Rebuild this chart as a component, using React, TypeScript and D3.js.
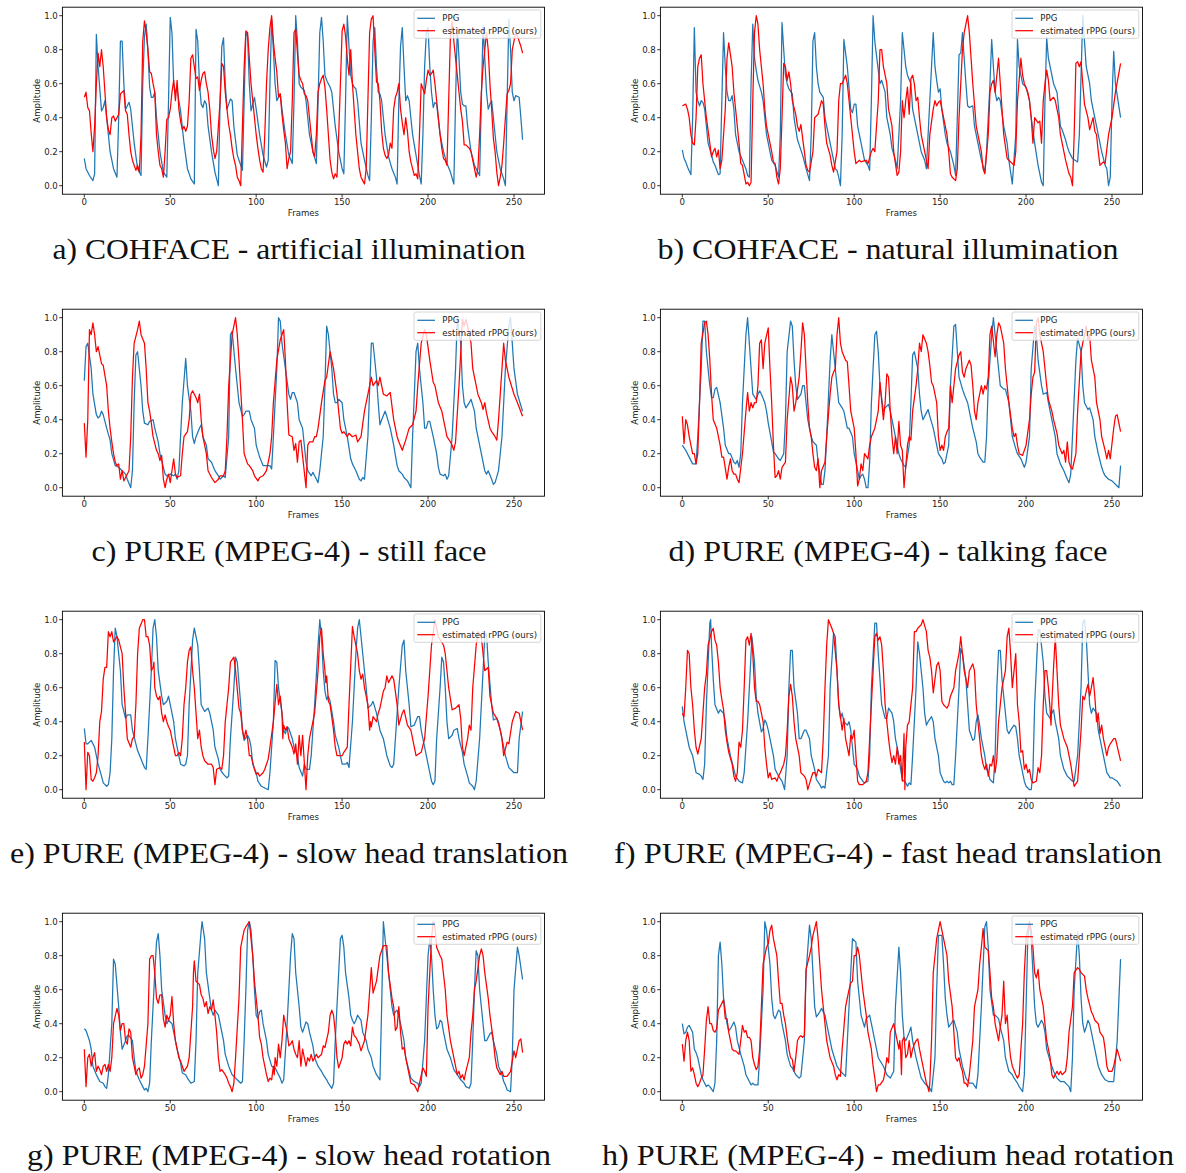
import React from 'react';
import * as d3 from 'd3';

type Pt = [number, number];

const FRAME_TICKS = [0, 50, 100, 150, 200, 250];
const AMP_TICKS = [0, 0.2, 0.4, 0.6, 0.8, 1.0];
const SERIES_NAMES = ['PPG', 'estimated rPPG (ours)'];
const CAPTIONS = [
  'a) COHFACE - artificial illumination',
  'b) COHFACE - natural illumination',
  'c) PURE (MPEG-4) - still face',
  'd) PURE (MPEG-4) - talking face',
  'e) PURE (MPEG-4) - slow head translation',
  'f) PURE (MPEG-4) - fast head translation',
  'g) PURE (MPEG-4) - slow head rotation',
  'h) PURE (MPEG-4) - medium head rotation',
];

const PPG_A: Pt[] = [[0,.16],[1,.1],[3,.06],[5,.03],[6,.07],[7,.89],[8,.7],[10,.44],[11,.46],[12,.5],[13,.4],[15,.2],[17,.1],[19,.05],[20,.4],[21,.85],[22,.85],[23,.6],[24,.45],[25,.47],[26,.49],[27,.45],[29,.25],[31,.1],[33,.06],[34,.6],[35,.88],[36,.95],[37,.8],[38,.58],[39,.52],[40,.52],[41,.55],[42,.4],[44,.2],[46,.08],[48,.05],[49,.5],[50,.99],[51,.9],[52,.6],[53,.55],[54,.57],[55,.5],[56,.44],[58,.25],[60,.1],[62,.04],[64,.01],[65,.92],[66,.85],[67,.6],[68,.48],[69,.46],[70,.5],[71,.48],[72,.35],[74,.2],[76,.08],[78,.0],[79,.5],[80,.82],[81,.87],[82,.6],[83,.45],[84,.48],[85,.51],[86,.5],[87,.35],[89,.18],[91,.12],[92,.09],[93,.5],[94,.9],[95,.88],[96,.6],[97,.44],[98,.48],[99,.52],[100,.45],[102,.3],[104,.18],[106,.11],[107,.15],[108,.6],[109,.98],[110,.8],[111,.6],[112,.5],[113,.52],[114,.54],[115,.45],[117,.3],[119,.18],[121,.13],[122,.5],[123,1.0],[124,.85],[125,.6],[126,.58],[127,.57],[128,.56],[129,.5],[131,.3],[133,.2],[135,.13],[136,.5],[137,.9],[138,.99],[139,.85],[140,.65],[141,.62],[142,.6],[143,.58],[144,.55],[146,.35],[148,.2],[150,.1],[151,.07],[152,.5],[153,1.0],[154,.82],[155,.65],[156,.6],[157,.58],[158,.57],[159,.5],[161,.25],[163,.15],[165,.06],[166,.03],[167,.4],[168,.85],[169,.93],[170,.7],[171,.55],[172,.54],[173,.5],[175,.3],[177,.17],[179,.1],[181,.05],[182,.01],[183,.5],[184,.82],[185,.93],[186,.7],[187,.5],[188,.53],[189,.5],[191,.3],[193,.18],[195,.06],[196,.01],[197,.3],[198,.7],[199,.9],[200,.93],[201,.7],[202,.55],[203,.46],[204,.49],[205,.48],[207,.3],[209,.2],[211,.13],[213,.08],[215,.01],[216,.5],[217,.93],[218,.75],[219,.55],[220,.48],[221,.47],[222,.47],[223,.35],[225,.2],[227,.12],[229,.08],[230,.06],[231,.5],[232,.94],[233,.75],[234,.55],[235,.45],[236,.48],[237,.5],[238,.4],[240,.2],[242,.1],[244,.04],[245,.0],[246,.5],[247,.98],[248,.8],[249,.55],[250,.5],[251,.53],[253,.52],[254,.4],[255,.27]];
const RPPG_A: Pt[] = [[0,.52],[1,.55],[2,.46],[3,.44],[4,.31],[5,.2],[6,.35],[7,.6],[8,.78],[9,.7],[10,.8],[11,.7],[12,.55],[13,.4],[14,.33],[15,.3],[16,.4],[17,.41],[18,.38],[19,.4],[20,.42],[21,.54],[22,.55],[23,.56],[24,.44],[25,.42],[26,.3],[27,.2],[28,.15],[29,.12],[30,.09],[31,.12],[32,.08],[33,.3],[34,.85],[35,.97],[36,.9],[37,.8],[38,.67],[39,.66],[40,.6],[41,.55],[42,.3],[43,.2],[44,.12],[45,.1],[46,.05],[47,.2],[48,.39],[49,.4],[50,.45],[51,.55],[52,.62],[53,.5],[54,.62],[55,.45],[56,.38],[57,.33],[58,.35],[59,.32],[60,.35],[61,.5],[62,.75],[63,.77],[64,.7],[65,.63],[66,.64],[67,.56],[68,.62],[69,.66],[70,.67],[71,.6],[72,.55],[73,.45],[74,.3],[75,.22],[76,.16],[77,.2],[78,.35],[79,.5],[80,.72],[81,.7],[82,.55],[83,.45],[84,.36],[85,.3],[86,.22],[87,.16],[88,.12],[89,.05],[90,.03],[91,.0],[92,.35],[93,.7],[94,.91],[95,.9],[96,.75],[97,.6],[98,.5],[99,.4],[100,.3],[101,.22],[102,.15],[103,.1],[104,.08],[105,.3],[106,.6],[107,.8],[108,.93],[109,1.0],[110,.85],[111,.75],[112,.67],[113,.52],[114,.54],[115,.42],[116,.33],[117,.25],[118,.1],[119,.16],[120,.2],[121,.5],[122,.9],[123,.92],[124,.78],[125,.65],[126,.62],[127,.6],[128,.54],[129,.53],[130,.5],[131,.4],[132,.3],[133,.2],[134,.17],[135,.3],[136,.55],[137,.6],[138,.63],[139,.65],[140,.58],[141,.45],[142,.3],[143,.15],[144,.08],[145,.04],[146,.07],[147,.05],[148,.3],[149,.6],[150,.91],[151,.95],[152,.88],[153,.75],[154,.65],[155,.8],[156,.6],[157,.45],[158,.3],[159,.2],[160,.1],[161,.05],[162,.03],[163,.01],[164,.1],[165,.5],[166,.9],[167,.98],[168,1.0],[169,.8],[170,.61],[171,.6],[172,.5],[173,.32],[174,.22],[175,.18],[176,.16],[177,.18],[178,.25],[179,.22],[180,.45],[181,.52],[182,.55],[183,.6],[184,.45],[185,.37],[186,.3],[187,.4],[188,.32],[189,.2],[190,.14],[191,.1],[192,.06],[193,.07],[194,.04],[195,.3],[196,.6],[197,.57],[198,.54],[199,.62],[200,.68],[201,.65],[202,.66],[203,.68],[204,.6],[205,.5],[206,.4],[207,.3],[208,.22],[209,.16],[210,.15],[211,.12],[212,.5],[213,.88],[214,.97],[215,.85],[216,.75],[217,.65],[218,.55],[219,.45],[220,.38],[221,.24],[222,.24],[223,.23],[224,.22],[225,.2],[226,.15],[227,.1],[228,.05],[229,.1],[230,.3],[231,.55],[232,.7],[233,.8],[234,.9],[235,.8],[236,.6],[237,.45],[238,.28],[239,.2],[240,.08],[241,.0],[242,.05],[243,.12],[244,.25],[245,.4],[246,.54],[247,.56],[248,.6],[249,.8],[250,.85],[251,.9],[252,.88],[253,.85],[254,.82],[255,.78]];

const PPG_B: Pt[] = [[0,.21],[1,.16],[2,.14],[3,.11],[5,.065],[6,.4],[7,.93],[8,.55],[9,.5],[10,.47],[11,.5],[12,.49],[13,.45],[14,.35],[15,.25],[17,.18],[18,.14],[19,.12],[21,.065],[22,.07],[23,.5],[24,.9],[25,.7],[26,.55],[27,.5],[28,.5],[29,.53],[30,.45],[31,.3],[33,.2],[35,.15],[37,.1],[38,.06],[39,.05],[40,.6],[41,.95],[42,.75],[43,.68],[44,.62],[46,.55],[47,.5],[48,.4],[49,.3],[50,.25],[52,.15],[54,.12],[56,.05],[57,.3],[58,.96],[59,.8],[60,.65],[61,.6],[62,.57],[64,.54],[65,.4],[67,.27],[68,.24],[70,.18],[72,.1],[74,.03],[75,.3],[76,.85],[77,.9],[78,.7],[79,.6],[80,.55],[82,.52],[83,.4],[85,.3],[87,.2],[88,.15],[89,.1],[90,.09],[91,.05],[92,.0],[93,.3],[94,.86],[96,.7],[98,.45],[99,.43],[100,.48],[101,.48],[102,.35],[104,.25],[106,.15],[108,.12],[109,.09],[110,.5],[111,1.0],[112,.85],[114,.68],[115,.6],[116,.62],[118,.55],[119,.4],[121,.3],[122,.22],[124,.15],[125,.1],[127,.5],[128,.9],[129,.8],[130,.7],[131,.65],[133,.6],[134,.45],[136,.35],[138,.25],[139,.2],[141,.15],[142,.1],[144,.5],[146,.9],[147,.7],[148,.62],[149,.55],[150,.57],[151,.45],[153,.3],[154,.25],[156,.2],[158,.12],[159,.06],[160,.4],[161,.77],[162,.78],[163,.9],[164,.75],[165,.6],[166,.47],[167,.46],[169,.47],[170,.35],[172,.25],[174,.15],[176,.08],[177,.2],[179,.6],[180,.86],[181,.7],[182,.55],[183,.5],[184,.52],[185,.5],[187,.35],[189,.25],[190,.15],[192,.01],[194,.3],[195,.86],[196,.7],[198,.6],[200,.58],[202,.5],[203,.4],[205,.25],[207,.12],[209,.02],[210,.0],[211,.5],[212,.87],[213,.75],[215,.65],[216,.6],[218,.55],[219,.45],[220,.35],[221,.33],[222,.3],[223,.27],[224,.23],[225,.2],[226,.18],[227,.16],[230,.14],[231,.3],[233,1.0],[234,.85],[235,.7],[237,.6],[238,.5],[240,.4],[242,.3],[244,.2],[246,.12],[247,.1],[248,.0],[249,.05],[250,.5],[251,.79],[252,.6],[255,.4]];
const RPPG_B: Pt[] = [[0,.47],[2,.48],[3,.45],[4,.4],[5,.3],[6,.25],[7,.24],[8,.4],[9,.7],[10,.75],[11,.77],[12,.6],[14,.4],[16,.25],[17,.17],[18,.2],[19,.22],[20,.17],[21,.21],[22,.1],[23,.15],[25,.45],[26,.75],[27,.84],[29,.7],[30,.55],[32,.35],[33,.25],[34,.13],[35,.12],[37,.01],[38,.02],[39,.0],[40,.02],[41,.5],[42,.9],[43,1.0],[44,.95],[45,.8],[47,.6],[48,.45],[49,.35],[50,.3],[51,.25],[52,.2],[53,.14],[54,.13],[55,.05],[56,.01],[57,.1],[58,.4],[59,.72],[60,.7],[61,.62],[62,.67],[63,.6],[64,.5],[66,.42],[67,.35],[68,.32],[69,.36],[70,.28],[71,.2],[72,.12],[73,.09],[74,.08],[76,.2],[77,.4],[79,.42],[81,.5],[82,.48],[83,.35],[84,.25],[86,.18],[87,.12],[88,.08],[90,.2],[91,.5],[92,.6],[93,.6],[95,.65],[96,.6],[98,.4],[100,.2],[101,.13],[103,.15],[104,.14],[107,.15],[108,.13],[110,.2],[111,.22],[112,.2],[114,.5],[115,.8],[116,.8],[117,.7],[119,.6],[120,.45],[122,.35],[123,.2],[125,.06],[126,.08],[127,.2],[128,.5],[129,.4],[130,.5],[131,.58],[132,.42],[133,.63],[134,.65],[135,.6],[136,.5],[137,.52],[138,.4],[139,.3],[141,.2],[143,.1],[144,.3],[146,.45],[147,.5],[148,.47],[149,.49],[150,.5],[151,.45],[152,.4],[154,.3],[155,.2],[156,.07],[157,.05],[159,.03],[160,.1],[161,.4],[163,.8],[164,.9],[166,1.0],[167,.9],[169,.6],[171,.35],[172,.3],[174,.2],[175,.1],[176,.07],[178,.3],[179,.55],[180,.6],[181,.62],[182,.55],[184,.75],[185,.6],[187,.3],[189,.16],[190,.15],[192,.13],[193,.12],[194,.2],[195,.5],[197,.75],[198,.65],[199,.6],[201,.55],[202,.5],[203,.4],[204,.25],[205,.4],[207,.37],[208,.38],[209,.25],[210,.5],[211,.6],[212,.68],[213,.62],[214,.5],[216,.52],[217,.5],[219,.4],[220,.3],[222,.2],[223,.15],[225,.07],[226,.05],[227,.0],[228,.3],[229,.72],[230,.73],[231,.7],[232,.73],[233,.6],[234,.48],[236,.4],[237,.33],[239,.4],[240,.32],[241,.3],[242,.2],[243,.12],[245,.14],[246,.13],[248,.3],[250,.4],[252,.55],[255,.72]];

const PPG_C: Pt[] = [[0,.63],[1,.83],[2,.85],[4,.7],[5,.55],[7,.43],[8,.41],[9,.42],[10,.45],[11,.43],[13,.35],[15,.28],[16,.2],[18,.13],[20,.12],[22,.1],[24,.08],[25,.05],[27,.0],[28,.1],[29,.5],[30,.78],[31,.8],[33,.6],[34,.45],[35,.38],[37,.37],[38,.39],[40,.4],[41,.35],[43,.27],[44,.2],[46,.12],[47,.08],[48,.07],[50,.08],[52,.07],[53,.08],[54,.05],[55,.1],[57,.5],[59,.76],[60,.6],[62,.45],[63,.3],[64,.26],[65,.3],[67,.35],[68,.37],[69,.3],[71,.25],[72,.17],[74,.15],[76,.1],[78,.07],[79,.05],[81,.07],[82,.06],[84,.3],[85,.9],[86,.92],[88,.7],[90,.5],[92,.42],[93,.43],[94,.45],[96,.45],[97,.4],[99,.35],[100,.25],[102,.18],[104,.13],[106,.13],[108,.13],[109,.11],[110,.3],[112,.7],[113,1.0],[114,.98],[115,.85],[117,.7],[119,.55],[120,.52],[121,.56],[122,.56],[124,.5],[125,.4],[127,.35],[129,.15],[130,.1],[132,.07],[133,.09],[134,.07],[136,.03],[137,.1],[139,.3],[140,.6],[141,.95],[142,.9],[144,.7],[145,.55],[146,.5],[147,.5],[148,.52],[150,.5],[151,.4],[153,.3],[155,.17],[156,.14],[158,.1],[160,.05],[161,.04],[162,.06],[163,.05],[165,.3],[167,.85],[168,.85],[170,.65],[171,.5],[172,.37],[173,.4],[175,.45],[176,.42],[178,.35],[180,.25],[182,.13],[183,.1],[185,.08],[186,.06],[188,.04],[190,.0],[191,.3],[193,.8],[194,.85],[195,.7],[197,.5],[198,.35],[199,.35],[200,.39],[201,.39],[203,.3],[205,.2],[206,.12],[207,.08],[209,.07],[210,.08],[211,.05],[212,.07],[214,.3],[216,.7],[217,1.0],[219,.85],[220,.6],[221,.5],[222,.47],[224,.5],[225,.52],[227,.45],[228,.35],[230,.25],[232,.15],[233,.1],[234,.08],[235,.1],[237,.05],[238,.02],[239,.03],[241,.1],[243,.3],[245,.7],[247,.95],[248,1.0],[249,.85],[250,.7],[252,.55],[255,.45]];
const RPPG_C: Pt[] = [[0,.38],[1,.18],[2,.4],[3,.93],[4,.9],[5,.97],[6,.9],[7,.8],[8,.83],[9,.78],[10,.73],[11,.72],[13,.6],[14,.45],[15,.35],[16,.27],[17,.2],[18,.15],[19,.13],[20,.14],[21,.05],[22,.1],[23,.04],[24,.06],[26,.1],[27,.3],[28,.65],[29,.85],[31,.93],[32,.98],[33,.9],[35,.85],[36,.7],[37,.5],[38,.45],[39,.38],[40,.3],[42,.22],[43,.2],[44,.16],[45,.19],[46,.05],[47,.0],[48,.05],[49,.08],[50,.03],[51,.1],[52,.17],[53,.08],[54,.06],[56,.07],[57,.2],[58,.3],[60,.33],[61,.4],[62,.55],[63,.57],[64,.55],[65,.53],[66,.5],[67,.55],[68,.4],[69,.3],[71,.2],[72,.1],[74,.06],[76,.03],[78,.05],[79,.07],[81,.07],[82,.1],[83,.3],[84,.6],[86,.9],[88,1.0],[89,.9],[90,.75],[92,.4],[93,.2],[95,.14],[96,.13],[98,.1],[99,.07],[101,.04],[102,.06],[104,.07],[106,.1],[108,.2],[109,.3],[110,.5],[112,.75],[114,.87],[115,.9],[116,.93],[117,.75],[118,.5],[119,.31],[121,.3],[122,.22],[123,.26],[124,.15],[125,.27],[126,.28],[129,.0],[130,.25],[131,.27],[133,.27],[134,.3],[135,.3],[136,.35],[138,.5],[140,.63],[141,.65],[143,.8],[144,.75],[145,.7],[147,.55],[148,.45],[149,.35],[150,.32],[151,.33],[153,.3],[154,.32],[156,.3],[158,.31],[159,.27],[161,.3],[163,.45],[167,.65],[168,.6],[170,.63],[171,.6],[172,.65],[174,.55],[176,.54],[178,.56],[180,.4],[182,.3],[183,.27],[185,.22],[187,.28],[189,.35],[191,.37],[193,.45],[194,.6],[196,.85],[198,.93],[199,.9],[201,.75],[203,.62],[204,.6],[206,.5],[208,.45],[210,.35],[211,.3],[213,.27],[214,.25],[215,.22],[216,.27],[218,.6],[220,.99],[221,.95],[222,.99],[223,.95],[225,.85],[226,.7],[229,.55],[231,.5],[232,.46],[233,.5],[234,.44],[236,.35],[237,.33],[239,.3],[240,.28],[241,.4],[243,.7],[244,.85],[245,.75],[247,.65],[250,.55],[252,.5],[255,.42]];

const PPG_D: Pt[] = [[0,.25],[2,.22],[4,.18],[6,.14],[8,.14],[9,.3],[11,.7],[12,.98],[13,.98],[14,.8],[16,.6],[17,.53],[18,.53],[19,.58],[20,.59],[22,.5],[24,.35],[25,.25],[27,.2],[28,.2],[30,.15],[31,.14],[32,.16],[33,.12],[34,.2],[35,.5],[37,.9],[38,1.0],[39,.85],[40,.7],[41,.55],[43,.52],[44,.55],[45,.57],[46,.55],[48,.5],[49,.45],[50,.38],[52,.27],[53,.21],[54,.2],[56,.17],[57,.16],[59,.2],[60,.4],[61,.8],[63,.98],[64,.95],[65,.75],[66,.6],[67,.52],[69,.55],[70,.6],[71,.6],[72,.5],[73,.4],[75,.3],[76,.27],[78,.25],[79,.15],[81,.02],[82,.02],[83,.1],[84,.3],[86,.75],[87,.9],[88,.8],[90,.6],[91,.5],[93,.47],[94,.45],[95,.4],[96,.35],[97,.35],[99,.3],[100,.2],[102,.1],[103,.05],[104,.07],[105,.08],[106,.05],[107,.0],[108,.0],[109,.15],[110,.5],[112,.9],[113,.92],[114,.8],[115,.6],[117,.45],[118,.47],[120,.49],[121,.45],[122,.4],[124,.3],[126,.2],[127,.17],[128,.15],[129,.13],[130,.12],[132,.25],[133,.5],[134,.78],[135,.8],[137,.7],[138,.55],[139,.45],[140,.4],[142,.44],[143,.46],[144,.42],[146,.35],[148,.25],[149,.2],[151,.17],[152,.14],[153,.15],[155,.25],[156,.6],[158,.95],[159,.96],[160,.8],[161,.65],[163,.58],[164,.55],[166,.5],[167,.45],[169,.35],[171,.27],[172,.2],[173,.18],[175,.15],[176,.15],[177,.3],[178,.6],[180,.9],[181,1.0],[182,.9],[184,.7],[185,.6],[187,.58],[188,.58],[190,.5],[191,.4],[192,.3],[194,.23],[195,.2],[197,.17],[199,.12],[200,.15],[202,.3],[203,.7],[205,.95],[206,.9],[207,.75],[209,.6],[210,.55],[212,.56],[213,.5],[215,.4],[217,.3],[218,.2],[220,.14],[222,.1],[224,.05],[225,.03],[226,.08],[227,.3],[229,.75],[230,.88],[232,.8],[233,.6],[234,.5],[236,.46],[237,.47],[239,.4],[240,.3],[242,.2],[244,.12],[245,.09],[246,.07],[248,.05],[250,.04],[254,.0],[255,.13]];
const RPPG_D: Pt[] = [[0,.42],[1,.26],[2,.4],[3,.37],[4,.3],[6,.2],[7,.2],[8,.14],[9,.2],[10,.5],[11,.85],[13,.97],[14,.98],[15,.9],[16,.75],[17,.55],[18,.4],[20,.35],[22,.25],[23,.18],[24,.18],[26,.05],[27,.12],[28,.17],[29,.1],[30,.08],[31,.08],[32,.05],[33,.03],[35,.2],[37,.45],[38,.56],[39,.45],[40,.5],[41,.47],[42,.5],[43,.5],[44,.6],[45,.85],[46,.87],[47,.7],[48,.85],[50,.94],[51,.7],[52,.5],[53,.25],[54,.06],[55,.07],[56,.1],[57,.05],[58,.12],[60,.15],[61,.4],[63,.65],[64,.6],[65,.45],[66,.5],[68,.65],[69,.8],[70,.97],[71,.9],[72,.7],[73,.5],[74,.35],[75,.3],[76,.2],[77,.12],[78,.1],[79,.17],[80,.0],[81,.1],[83,.15],[84,.3],[86,.55],[87,.65],[88,.68],[89,.7],[90,.9],[91,1.0],[92,.85],[93,.8],[95,.75],[96,.74],[97,.6],[98,.45],[100,.35],[101,.2],[102,.01],[103,.05],[104,.14],[105,.1],[106,.2],[108,.17],[109,.25],[110,.3],[112,.35],[114,.45],[115,.62],[117,.4],[118,.5],[119,.67],[120,.65],[121,.45],[122,.3],[123,.2],[124,.3],[125,.2],[126,.39],[127,.25],[128,.22],[129,.0],[131,.25],[132,.3],[133,.28],[134,.45],[136,.6],[137,.7],[138,.85],[139,.8],[140,.9],[142,.85],[143,.8],[144,.72],[145,.62],[146,.6],[148,.5],[149,.3],[150,.22],[151,.25],[152,.22],[153,.3],[154,.33],[155,.35],[156,.6],[157,.5],[158,.6],[159,.7],[161,.78],[162,.8],[163,.68],[164,.65],[165,.7],[167,.75],[168,.72],[169,.6],[170,.45],[171,.4],[172,.5],[174,.6],[175,.55],[176,.6],[177,.58],[178,.65],[179,.9],[180,.95],[182,.77],[183,.9],[184,.97],[185,.95],[187,.85],[188,.7],[190,.5],[192,.35],[193,.3],[194,.32],[195,.25],[196,.2],[198,.19],[200,.25],[202,.4],[203,.55],[204,.65],[205,.68],[206,.97],[207,1.0],[208,.9],[210,.8],[212,.6],[213,.52],[215,.45],[216,.4],[218,.32],[219,.25],[221,.2],[222,.22],[223,.15],[224,.27],[225,.15],[226,.12],[227,.11],[229,.2],[230,.45],[232,.8],[233,.85],[235,.95],[236,.87],[237,.9],[238,.75],[240,.65],[241,.5],[243,.4],[244,.3],[246,.22],[247,.17],[248,.22],[249,.17],[251,.35],[252,.42],[253,.43],[255,.33]];

const PPG_E: Pt[] = [[0,.36],[1,.27],[2,.27],[3,.28],[4,.29],[6,.25],[8,.15],[10,.08],[11,.04],[13,.02],[14,.03],[15,.1],[16,.3],[17,.7],[18,.95],[19,.9],[21,.7],[22,.5],[24,.42],[25,.44],[27,.44],[28,.35],[30,.27],[31,.23],[33,.18],[35,.13],[36,.12],[37,.3],[39,.7],[40,.95],[41,1.0],[42,.9],[43,.7],[45,.55],[46,.5],[48,.52],[49,.55],[50,.5],[52,.4],[53,.3],[55,.2],[56,.15],[58,.14],[59,.15],[60,.2],[61,.5],[63,.88],[64,.95],[66,.85],[67,.7],[68,.5],[70,.46],[71,.47],[72,.48],[73,.45],[75,.35],[76,.25],[78,.18],[79,.12],[81,.09],[83,.07],[84,.08],[85,.3],[87,.6],[88,.78],[89,.75],[91,.5],[92,.35],[93,.29],[95,.32],[96,.3],[97,.25],[98,.15],[100,.1],[101,.05],[103,.02],[105,.01],[107,.0],[108,.1],[110,.4],[111,.76],[112,.75],[113,.6],[115,.45],[116,.35],[117,.33],[118,.37],[119,.36],[121,.3],[122,.25],[124,.2],[125,.13],[127,.08],[128,.15],[129,.12],[131,.12],[132,.2],[134,.5],[136,.85],[137,1.0],[138,.9],[139,.7],[140,.58],[141,.53],[142,.55],[143,.52],[145,.4],[146,.32],[148,.25],[150,.15],[152,.15],[153,.16],[154,.13],[156,.4],[158,.8],[159,.95],[160,1.0],[161,.9],[163,.7],[164,.6],[165,.48],[167,.5],[168,.52],[170,.45],[172,.35],[174,.3],[176,.2],[178,.14],[179,.13],[180,.15],[181,.3],[183,.6],[185,.85],[186,.88],[187,.7],[189,.5],[190,.37],[192,.38],[194,.43],[195,.43],[196,.35],[198,.25],[200,.15],[202,.05],[203,.03],[204,.05],[205,.3],[207,.6],[208,.78],[209,.75],[210,.6],[211,.4],[212,.3],[214,.32],[215,.35],[217,.36],[218,.3],[220,.22],[221,.15],[223,.08],[224,.04],[226,.02],[227,.0],[228,.05],[230,.3],[232,.7],[233,.9],[234,.92],[235,.75],[237,.5],[238,.41],[240,.42],[241,.4],[243,.3],[245,.2],[247,.13],[249,.11],[250,.1],[252,.1],[253,.3],[255,.46]];
const RPPG_E: Pt[] = [[0,.28],[1,.0],[2,.22],[3,.2],[4,.06],[5,.05],[6,.07],[7,.1],[8,.2],[9,.4],[10,.46],[11,.65],[12,.72],[13,.72],[14,.93],[15,.9],[16,.93],[17,.87],[19,.9],[20,.88],[22,.8],[23,.6],[24,.45],[25,.3],[27,.25],[28,.3],[29,.31],[30,.5],[31,.8],[32,.95],[34,1.0],[35,1.0],[36,.9],[37,.9],[38,.85],[39,.7],[40,.72],[40.5,.75],[41,.6],[42,.55],[43,.53],[44,.55],[45,.45],[46,.4],[47,.44],[48,.4],[49,.37],[50,.35],[51,.3],[52,.25],[53,.2],[54,.2],[55,.22],[56,.2],[57,.3],[58,.5],[59,.6],[60,.75],[61,.82],[62,.84],[63,.7],[64,.6],[65,.45],[66,.3],[67,.35],[68,.25],[69,.2],[70,.17],[72,.15],[74,.15],[75,.13],[76,.03],[77,.12],[79,.13],[80,.12],[81,.2],[82,.4],[84,.6],[85,.75],[87,.78],[88,.7],[90,.48],[91,.45],[92,.35],[93,.3],[94,.35],[95,.3],[96,.2],[97,.2],[99,.12],[100,.09],[101,.1],[102,.08],[104,.1],[105,.12],[107,.18],[108,.25],[110,.4],[112,.62],[113,.5],[114,.55],[115,.45],[115.5,.3],[116,.38],[117,.35],[118,.37],[119,.3],[121,.25],[122,.21],[123,.27],[124,.15],[125,.32],[126,.2],[127,.32],[129,.0],[130,.2],[131,.3],[133,.4],[134,.45],[136,.7],[137,.9],[138,.95],[139,.8],[140,.7],[140.5,.63],[141,.67],[142,.52],[143,.5],[145,.35],[146,.25],[147,.2],[148,.2],[150,.2],[151,.22],[153,.25],[154,.5],[156,.96],[157,.9],[158,.85],[159,.8],[160,.7],[161,.65],[162,.68],[163,.6],[165,.5],[166,.35],[166.5,.4],[167,.37],[168,.43],[170,.4],[171,.45],[172,.48],[174,.58],[175,.6],[176,.67],[177,.63],[178,.65],[179,.67],[180,.65],[182,.5],[183,.38],[185,.45],[186,.47],[188,.38],[190,.35],[193,.2],[196,.22],[198,.3],[200,.55],[202,.85],[204,1.0],[206,.9],[209,.85],[210,.8],[212,.6],[214,.47],[216,.48],[218,.5],[219,.42],[220,.25],[221,.2],[223,.3],[224,.38],[225,.35],[226,.6],[228,.85],[229,.93],[231,.9],[232,.8],[233,.7],[235,.72],[236,.55],[238,.45],[240,.42],[242,.35],[243,.3],[244,.2],[246,.28],[247,.27],[249,.4],[251,.46],[253,.45],[255,.35]];

const PPG_F: Pt[] = [[0,.49],[1,.4],[3,.3],[4,.25],[6,.2],[7,.15],[8,.1],[10,.09],[11,.08],[12,.06],[13,.15],[14,.5],[16,.98],[16.5,1.0],[17,.85],[18,.65],[19,.5],[21,.45],[22,.47],[24,.45],[25,.4],[26,.3],[28,.2],[30,.12],[31,.08],[33,.05],[35,.04],[36,.1],[38,.4],[40,.8],[40.5,.9],[42,.75],[43,.55],[44,.45],[46,.34],[47,.36],[48,.41],[49,.39],[50,.35],[51,.3],[53,.2],[54,.12],[56,.08],[58,.05],[59,.02],[59.5,.0],[61,.2],[62,.6],[63,.82],[64,.82],[65,.6],[67,.45],[68,.3],[69,.3],[71,.35],[72,.35],[74,.3],[75,.2],[77,.12],[78,.06],[80,.03],[81,.01],[82,.02],[83,.01],[85,.2],[86,.6],[88,.92],[89,.9],[90,.7],[91,.5],[92,.42],[93,.45],[94,.4],[96,.38],[97,.4],[98,.35],[99,.25],[100,.15],[102,.12],[103,.08],[105,.05],[106,.04],[108,.05],[109,.2],[110,.6],[112,.98],[113,.98],[114,.8],[115,.65],[116,.5],[118,.42],[119,.42],[120,.48],[122,.45],[123,.4],[124,.3],[126,.2],[127,.12],[128,.06],[130,.04],[131,.02],[132,.04],[133,.03],[134,.2],[136,.6],[137,.87],[138,.8],[140,.6],[141,.45],[142,.38],[143,.4],[145,.43],[146,.4],[147,.3],[149,.2],[150,.1],[152,.05],[153,.04],[154,.05],[155,.04],[156,.05],[157,.03],[158,.03],[159,.2],[161,.6],[162,.83],[163,.8],[165,.65],[166,.5],[167,.35],[169,.29],[170,.3],[171,.4],[172,.44],[173,.38],[174,.3],[176,.2],[177,.12],[178,.1],[179,.06],[180,.05],[181,.04],[182,.2],[183,.6],[184,.82],[185,.82],[186,.65],[188,.45],[189,.35],[190,.33],[191,.35],[193,.38],[194,.37],[195,.3],[196,.2],[197,.15],[198,.1],[199,.05],[200,.02],[202,.0],[203,.0],[204,.1],[205,.5],[207,.94],[208,.94],[210,.75],[211,.55],[212,.45],[214,.42],[215,.45],[216,.47],[217,.4],[219,.3],[220,.2],[222,.12],[224,.08],[226,.06],[227,.05],[228,.05],[230,.2],[232,.6],[233,.98],[234,1.0],[235,.9],[236,.7],[237,.5],[238,.45],[239,.48],[241,.45],[242,.35],[244,.25],[245,.2],[247,.1],[249,.07],[250,.07],[253,.05],[255,.02]];
const RPPG_F: Pt[] = [[0,.45],[1,.43],[2,.6],[3,.82],[4,.8],[5,.6],[6,.5],[7,.35],[8,.25],[9,.21],[11,.3],[12,.45],[13,.6],[14,.68],[15,.85],[17,.93],[18,.95],[19,.88],[20,.85],[21,.75],[22,.6],[23,.53],[24,.47],[25,.35],[26,.28],[27,.22],[29,.15],[30,.08],[31,.05],[32,.1],[33,.28],[34,.25],[35,.35],[36,.6],[37,.88],[38,.9],[39,.85],[40,.92],[41,.8],[42,.6],[43,.52],[44,.52],[45,.5],[47,.4],[48,.25],[49,.15],[50,.07],[51,.1],[52,.06],[54,.07],[55,.05],[56,.08],[57,.1],[59,.15],[60,.2],[61,.35],[62,.55],[63,.62],[64,.55],[65,.4],[66,.3],[67,.25],[68,.2],[69,.1],[71,.08],[72,.06],[73,.0],[75,.07],[76,.1],[77,.1],[78,.08],[79,.12],[81,.1],[82,.3],[83,.6],[84,.85],[85,1.0],[87,.95],[88,.92],[90,.7],[91,.5],[92,.43],[93,.35],[94,.42],[95,.3],[96,.25],[97,.2],[98,.32],[99,.3],[100,.35],[101,.2],[102,.05],[103,.03],[105,.03],[107,.05],[108,.1],[109,.3],[111,.7],[112,.9],[113,.92],[114,.88],[115,.9],[116,.85],[117,.7],[118,.5],[119,.4],[120,.3],[121,.22],[122,.16],[123,.2],[124,.15],[125,.25],[126,.15],[127,.2],[128,.05],[129,.33],[129.5,.0],[130,.25],[131,.38],[132,.4],[133,.5],[134,.6],[135,.93],[136,.93],[137,.95],[139,.97],[140,1.0],[142,.93],[143,.82],[144,.78],[145,.7],[146,.57],[147,.65],[148,.73],[149,.75],[150,.7],[151,.52],[152,.5],[154,.48],[155,.5],[156,.55],[158,.6],[159,.7],[160,.75],[161,.8],[162,.9],[163,.8],[164,.7],[165,.65],[166,.6],[167,.7],[169,.74],[170,.7],[170.5,.6],[171,.5],[172,.4],[173,.3],[174,.2],[175,.15],[176,.12],[177,.15],[178,.08],[179,.15],[180,.14],[181,.2],[182,.1],[183,.18],[184,.4],[186,.6],[187,.65],[188,.7],[189,.9],[190,.95],[191,.8],[192,.6],[193,.7],[194,.8],[195,.5],[196,.4],[197,.22],[198,.23],[199,.12],[200,.15],[201,.1],[202,.12],[203,.06],[204,.04],[206,.05],[207,.13],[208,.1],[209,.2],[210,.5],[211,.7],[212,.7],[213,.6],[214,.47],[214.5,.38],[215,.5],[216,.72],[217,.9],[218,.7],[219,.5],[220,.38],[222,.3],[224,.25],[225,.2],[226,.15],[227,.08],[228,.02],[230,.05],[231,.2],[232,.35],[233,.55],[234,.53],[235,.58],[236,.62],[237,.55],[238,.6],[239,.66],[240,.55],[241,.4],[242,.45],[243,.33],[244,.38],[245,.3],[246,.25],[247,.2],[248,.25],[249,.27],[251,.3],[252,.3],[255,.17]];

const PPG_G: Pt[] = [[0,.37],[1,.36],[3,.3],[4,.25],[5,.15],[7,.1],[8,.08],[9,.06],[11,.05],[12,.03],[13,.02],[14,.1],[16,.4],[17,.78],[18,.75],[20,.5],[21,.35],[22,.25],[24,.3],[25,.33],[26,.33],[28,.3],[29,.2],[30,.12],[32,.07],[33,.05],[34,.03],[35,.01],[36,.02],[37,.0],[38,.05],[39,.3],[41,.7],[42,.88],[43,.93],[44,.8],[45,.6],[47,.45],[48,.4],[49,.42],[51,.4],[52,.35],[54,.25],[56,.17],[57,.11],[59,.1],[60,.08],[62,.05],[64,.06],[65,.3],[66,.7],[68,.95],[68.5,1.0],[70,.9],[71,.7],[73,.55],[74,.48],[75,.45],[76,.48],[78,.45],[79,.4],[81,.3],[82,.22],[84,.15],[86,.1],[88,.08],[89,.07],[91,.05],[92,.06],[93,.3],[94,.6],[95,.95],[96,1.0],[97,.95],[98,.8],[99,.6],[100,.45],[101,.43],[102,.47],[103,.48],[104,.4],[106,.3],[107,.22],[109,.15],[111,.14],[112,.12],[114,.08],[115,.05],[116,.07],[118,.4],[120,.8],[121,.93],[122,.9],[123,.7],[125,.5],[126,.38],[127,.35],[128,.38],[129,.41],[130,.4],[131,.35],[133,.27],[134,.2],[136,.15],[138,.12],[139,.1],[141,.07],[142,.05],[144,.02],[145,.05],[146,.3],[148,.7],[149,.9],[150,.92],[151,.85],[152,.7],[154,.55],[155,.45],[156,.42],[157,.4],[158,.42],[159,.45],[161,.42],[162,.35],[164,.3],[165,.25],[167,.2],[168,.15],[170,.1],[172,.07],[173,.5],[174,1.0],[175,.9],[177,.7],[179,.5],[180,.45],[181,.47],[182,.48],[184,.4],[186,.3],[187,.2],[189,.12],[190,.08],[192,.06],[194,.05],[195,.03],[196,.05],[198,.3],[200,.8],[201,.9],[202,.8],[203,.6],[204,.45],[205,.37],[206,.38],[207,.42],[208,.41],[209,.35],[211,.25],[213,.2],[215,.13],[217,.1],[219,.07],[221,.05],[222,.03],[224,.02],[225,.05],[226,.3],[227,.6],[228,.83],[229,.8],[230,.6],[232,.4],[233,.3],[234,.3],[236,.34],[237,.35],[238,.3],[240,.22],[241,.15],[243,.1],[244,.06],[245,.04],[246,.01],[248,.0],[249,.2],[250,.6],[252,.85],[253,.8],[255,.66]];
const RPPG_G: Pt[] = [[0,.25],[1,.03],[2,.2],[3,.22],[4,.15],[5,.2],[6,.23],[7,.12],[8,.15],[9,.13],[10,.1],[11,.15],[12,.16],[13,.12],[14,.16],[15,.12],[16,.2],[17,.4],[19,.49],[20,.45],[21,.36],[22,.4],[23,.4],[24,.3],[25,.28],[26,.37],[27,.35],[28,.2],[29,.15],[30,.1],[31,.13],[32,.14],[33,.08],[34,.1],[35,.15],[37,.4],[38,.78],[39,.8],[40,.8],[41,.7],[42,.55],[43,.52],[44,.57],[45,.57],[46,.43],[47,.38],[48,.45],[49,.42],[50,.45],[51,.56],[52,.4],[53,.3],[54,.25],[55,.2],[56,.18],[57,.15],[58,.12],[60,.15],[61,.2],[63,.5],[63.5,.7],[64,.77],[65,.65],[67,.63],[68,.57],[69,.55],[70,.5],[71,.53],[72,.46],[73,.5],[74,.48],[75,.54],[76,.45],[77,.35],[78,.2],[79,.12],[80,.13],[82,.1],[83,.08],[84,.05],[85,.03],[86,.0],[87,.05],[88,.2],[90,.55],[91,.85],[93,.95],[94,.97],[96,1.0],[97,.9],[98,.8],[99,.65],[100,.55],[101,.45],[102,.32],[103,.28],[104,.2],[105,.15],[106,.1],[107,.06],[108,.08],[109,.07],[110,.15],[110.5,.1],[111,.2],[112,.15],[113,.28],[114,.2],[115,.3],[116,.45],[117,.4],[118,.35],[119,.27],[120,.28],[121,.3],[122,.25],[123,.22],[124,.2],[125,.3],[126,.15],[127,.25],[128,.2],[129,.15],[130,.2],[131,.18],[132,.22],[133,.18],[134,.2],[135,.22],[136,.2],[138,.22],[139,.27],[140,.26],[142,.35],[143,.45],[144,.48],[145,.45],[146,.35],[147,.2],[148,.14],[150,.2],[151,.28],[152,.3],[153,.28],[154,.3],[155,.27],[156,.38],[157,.33],[158,.32],[160,.28],[161,.24],[163,.3],[165,.45],[167,.73],[168,.58],[170,.65],[172,.8],[174,.86],[176,.86],[177,.7],[179,.55],[180,.5],[181,.36],[182,.38],[183,.5],[184,.35],[185,.25],[186,.26],[187,.2],[188,.15],[190,.05],[192,.04],[193,.02],[194,.0],[195,.05],[197,.14],[198,.12],[199,.09],[200,.5],[201,.7],[202,.9],[203,1.0],[204,.97],[205,.85],[207,.8],[208,.78],[210,.6],[211,.45],[213,.3],[215,.2],[216,.15],[217,.1],[218,.12],[219,.08],[220,.1],[221,.07],[222,.12],[224,.2],[225,.35],[226,.45],[227,.6],[228,.65],[230,.8],[231,.84],[232,.8],[233,.7],[235,.55],[236,.45],[238,.3],[239,.2],[240,.14],[242,.1],[243,.12],[244,.09],[246,.09],[248,.12],[250,.24],[251,.2],[253,.3],[254,.31],[255,.23]];

const PPG_H: Pt[] = [[0,.4],[1,.34],[2,.35],[3,.38],[4,.39],[6,.35],[7,.25],[8,.23],[9,.2],[11,.1],[12,.07],[13,.05],[14,.03],[15,.04],[16,.03],[18,.0],[19,.05],[20,.3],[21,.8],[22,.88],[23,.75],[24,.55],[26,.4],[27,.36],[28,.37],[30,.41],[31,.38],[32,.3],[34,.22],[36,.15],[37,.1],[39,.06],[40,.04],[41,.05],[42,.04],[44,.04],[45,.2],[47,.6],[48,1.0],[49,.95],[51,.75],[52,.55],[53,.45],[54,.43],[56,.48],[57,.47],[58,.4],[60,.3],[61,.22],[63,.15],[64,.14],[66,.1],[68,.08],[69,.09],[71,.3],[72,.7],[74,.98],[75,.9],[76,.7],[77,.5],[78,.44],[80,.47],[81,.49],[83,.45],[85,.35],[87,.25],[90,.15],[92,.12],[95,.09],[97,.5],[99,.9],[101,.88],[102,.65],[104,.45],[106,.38],[107,.43],[109,.45],[110,.4],[112,.3],[114,.2],[117,.15],[119,.1],[121,.08],[123,.12],[124,.5],[126,.85],[127,.7],[128,.45],[129,.32],[130,.3],[132,.35],[133,.38],[134,.3],[136,.2],[138,.12],[139,.08],[141,.05],[143,.03],[144,.02],[145,.0],[147,.2],[148,.6],[149,.92],[151,.92],[152,.75],[153,.55],[154,.45],[155,.38],[157,.41],[158,.42],[160,.35],[161,.25],[163,.15],[165,.08],[167,.05],[169,.05],[171,.02],[172,.1],[174,.5],[176,.97],[177,1.0],[178,.85],[179,.6],[181,.45],[182,.45],[184,.43],[185,.38],[187,.3],[188,.2],[190,.12],[192,.1],[193,.08],[195,.05],[196,.03],[198,.0],[199,.1],[200,.5],[201,.9],[202,1.0],[203,.9],[204,.7],[205,.5],[206,.4],[207,.38],[209,.42],[210,.4],[211,.35],[212,.25],[214,.18],[216,.12],[218,.08],[220,.06],[222,.06],[224,.04],[225,.03],[226,.0],[227,.2],[228,.6],[230,.94],[231,.8],[232,.55],[233,.4],[234,.35],[235,.38],[236,.42],[237,.4],[239,.3],[241,.2],[242,.15],[244,.1],[246,.07],[248,.06],[251,.06],[253,.3],[255,.78]];
const RPPG_H: Pt[] = [[0,.28],[1,.18],[2,.3],[3,.35],[4,.3],[5,.12],[6,.14],[7,.1],[8,.05],[9,.03],[10,.05],[11,.08],[12,.1],[13,.25],[14,.42],[15,.5],[16,.4],[17,.4],[18,.36],[19,.35],[20,.37],[21,.48],[22,.5],[23,.52],[24,.54],[25,.43],[26,.43],[27,.35],[28,.3],[29,.25],[30,.24],[31,.24],[32,.23],[33,.22],[34,.3],[35,.39],[36,.35],[37,.36],[38,.32],[39,.32],[40,.3],[41,.2],[42,.16],[43,.13],[44,.15],[45,.25],[46,.5],[47,.75],[48,.8],[49,.85],[50,.87],[51,.95],[52,.98],[53,.9],[54,.85],[55,.8],[56,.65],[57,.52],[58,.52],[59,.45],[60,.4],[61,.32],[62,.25],[63,.2],[64,.19],[65,.12],[66,.2],[67,.3],[68,.32],[69,.33],[70,.32],[71,.33],[72,.72],[74,.8],[75,.85],[76,.92],[78,1.0],[79,.9],[80,.75],[81,.6],[82,.5],[83,.4],[84,.3],[86,.2],[88,.15],[89,.1],[90,.07],[91,.1],[92,.09],[93,.25],[95,.5],[97,.6],[98,.64],[99,.65],[100,.8],[101,.8],[102,.85],[103,.8],[104,.7],[105,.6],[107,.45],[108,.35],[110,.25],[111,.15],[112,.08],[113,.0],[114,.04],[115,.04],[117,.07],[118,.12],[119,.2],[120,.17],[121,.35],[123,.4],[124,.35],[125,.3],[126,.25],[126.5,.3],[127,.25],[127.5,.1],[128,.3],[129,.32],[130,.2],[131,.22],[132,.3],[133,.2],[134,.25],[135,.28],[136,.3],[137,.31],[138,.25],[139,.2],[140,.15],[141,.1],[142,.05],[143,.02],[143.5,.0],[144,.05],[145,.3],[146,.7],[148,.9],[149,.95],[150,1.0],[151,.95],[152,.9],[154,.8],[155,.65],[157,.5],[158,.35],[159,.2],[160,.18],[161,.2],[162,.15],[163,.12],[164,.05],[165,.05],[166,.03],[167,.1],[169,.3],[170,.5],[172,.6],[173,.75],[174,.85],[175,.96],[176,.85],[178,.83],[179,.7],[180,.55],[181,.5],[182,.4],[183,.35],[184,.3],[185,.38],[186,.45],[187,.65],[188,.4],[189,.45],[190,.3],[191,.2],[192,.15],[194,.1],[195,.08],[196,.1],[198,.4],[199,.7],[200,.9],[202,1.0],[203,.95],[204,.85],[205,.7],[206,.67],[207,.72],[208,.6],[210,.5],[211,.4],[212,.3],[214,.2],[215,.1],[216,.08],[218,.12],[219,.1],[220,.12],[221,.1],[223,.12],[224,.2],[225,.35],[227,.5],[228,.7],[230,.73],[231,.72],[232,.7],[234,.68],[235,.6],[236,.55],[238,.47],[239,.45],[240,.42],[242,.4],[243,.35],[245,.32],[246,.25],[247,.15],[248,.12],[250,.12],[251,.15],[252,.2],[253,.25],[255,.18]];

const PPG_SERIES = [PPG_A, PPG_B, PPG_C, PPG_D, PPG_E, PPG_F, PPG_G, PPG_H];
const RPPG_SERIES = [RPPG_A, RPPG_B, RPPG_C, RPPG_D, RPPG_E, RPPG_F, RPPG_G, RPPG_H];

// layout (not data)
const W = 1186;
const H = 1173;
const COL_X = [0, 598];
const ROW_Y = [0, 302, 604, 906];
const CAPTION_W = [473, 461, 395, 439, 558, 548, 524, 572];
const BLUE = '#1f77b4';
const RED = '#ff0000';
const TICK_FONT = 'DejaVu Sans, sans-serif';

function Panel({ idx }: { idx: number }) {
  const ox = COL_X[idx % 2];
  const oy = ROW_Y[Math.floor(idx / 2)];
  const left = ox + 62.4;
  const right = ox + 544.5;
  const top = oy + 7.2;
  const bottom = oy + 194.2;
  const x = d3.scaleLinear().domain([-12.75, 267.75]).range([left, right]);
  const y = d3.scaleLinear().domain([-0.05, 1.05]).range([bottom, top]);
  const line = d3.line<Pt>().x((d) => x(d[0])).y((d) => y(d[1]));
  const fs = 8.6;
  const legX = right - 130.5;
  const legY = top + 2.8;
  return (
    <g>
      <path d={line(PPG_SERIES[idx]) || ''} fill="none" stroke={BLUE} strokeWidth={1.25} strokeLinejoin="round" />
      <path d={line(RPPG_SERIES[idx]) || ''} fill="none" stroke={RED} strokeWidth={1.25} strokeLinejoin="round" />
      <rect x={left} y={top} width={right - left} height={bottom - top} fill="none" stroke="#000" strokeWidth={0.9} />
      {FRAME_TICKS.map((t) => (
        <g key={'x' + t}>
          <line x1={x(t)} x2={x(t)} y1={bottom} y2={bottom + 3.2} stroke="#000" strokeWidth={0.8} />
          <text x={x(t)} y={bottom + 10.8} fontSize={fs} fontFamily={TICK_FONT} textAnchor="middle" fill="#222">{t}</text>
        </g>
      ))}
      {AMP_TICKS.map((t) => (
        <g key={'y' + t}>
          <line x1={left - 3.2} x2={left} y1={y(t)} y2={y(t)} stroke="#000" strokeWidth={0.8} />
          <text x={left - 4.6} y={y(t) + 3.1} fontSize={fs} fontFamily={TICK_FONT} textAnchor="end" fill="#222">{t.toFixed(1)}</text>
        </g>
      ))}
      <text x={(left + right) / 2} y={bottom + 21.3} fontSize={fs} fontFamily={TICK_FONT} textAnchor="middle" fill="#222">Frames</text>
      <text transform={`translate(${ox + 40.4},${(top + bottom) / 2}) rotate(-90)`} fontSize={fs} fontFamily={TICK_FONT} textAnchor="middle" fill="#222">Amplitude</text>
      <g>
        <rect x={legX} y={legY} width={126.8} height={28.3} rx={2} fill="#fff" fillOpacity={0.8} stroke="#ccc" strokeWidth={0.8} />
        <line x1={legX + 3.3} x2={legX + 21} y1={legY + 8.3} y2={legY + 8.3} stroke={BLUE} strokeWidth={1.25} />
        <line x1={legX + 3.3} x2={legX + 21} y1={legY + 20.7} y2={legY + 20.7} stroke={RED} strokeWidth={1.25} />
        <text x={legX + 28.3} y={legY + 11.4} fontSize={fs} fontFamily={TICK_FONT} fill="#222">{SERIES_NAMES[0]}</text>
        <text x={legX + 28.3} y={legY + 23.8} fontSize={fs} fontFamily={TICK_FONT} fill="#222">{SERIES_NAMES[1]}</text>
      </g>
      <text x={ox + (idx % 2 === 0 ? 289 : 290)} y={oy + 258.5} fontSize={29.5} fontFamily="Liberation Serif, serif" textAnchor="middle" fill="#111" textLength={CAPTION_W[idx]} lengthAdjust="spacingAndGlyphs">{CAPTIONS[idx]}</text>
    </g>
  );
}

export default function App() {
  return (
    <svg width={W} height={H} viewBox={`0 0 ${W} ${H}`} style={{ position: 'absolute', left: 0, top: 0, background: '#fff' }}>
      <rect x={0} y={0} width={W} height={H} fill="#fff" />
      {CAPTIONS.map((_, i) => (
        <Panel key={i} idx={i} />
      ))}
    </svg>
  );
}
